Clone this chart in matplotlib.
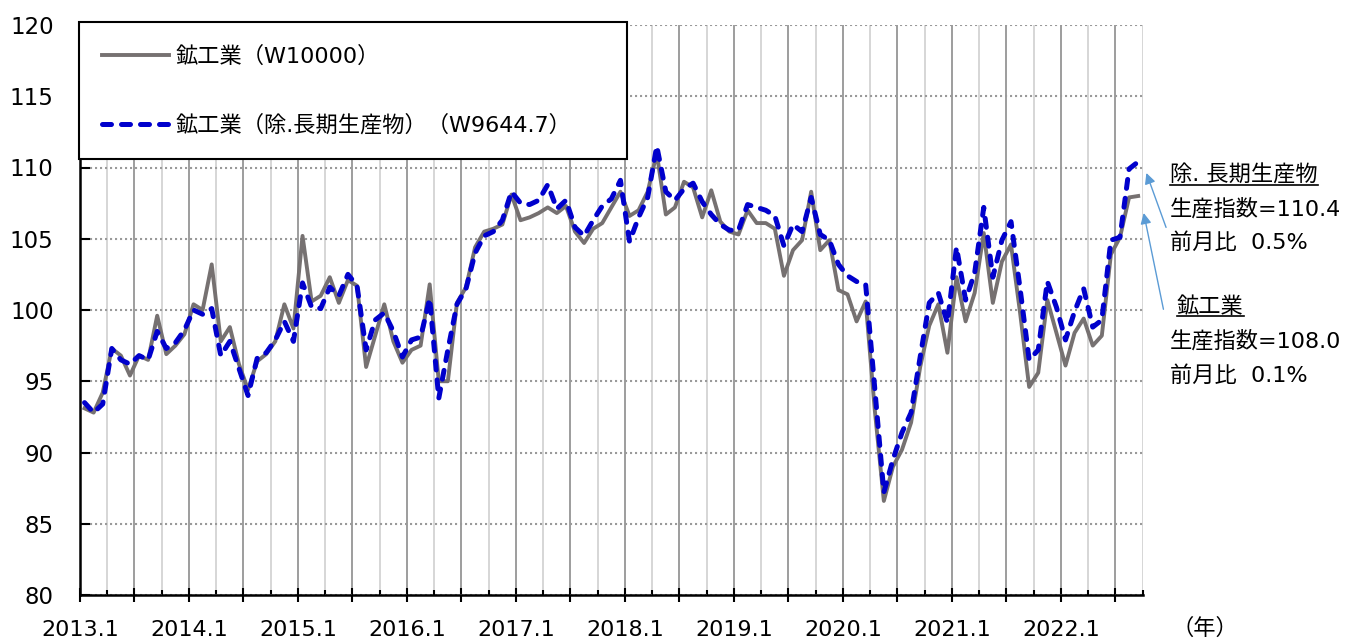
import matplotlib
matplotlib.use("Agg")
import matplotlib.pyplot as plt
import numpy as np
from matplotlib.lines import Line2D
from matplotlib.ticker import FixedLocator, FixedFormatter

plt.rcParams['font.family'] = ['DejaVu Sans', 'Noto Sans CJK JP']

# monthly index, 2013.1 .. 2022.9
mining = [93.1, 92.8, 94.2, 97.3, 96.8, 95.4, 96.8, 96.5, 99.6, 96.9, 97.5, 98.3,
          100.4, 100.0, 103.2, 97.8, 98.8, 96.2, 94.4, 96.4, 96.9, 97.8, 100.4, 98.7,
          105.2, 100.6, 101.0, 102.3, 100.5, 102.1, 101.7, 96.0, 98.2, 100.4, 97.8, 96.3,
          97.2, 97.5, 101.8, 95.0, 95.0, 100.5, 101.6, 104.4, 105.5, 105.7, 106.0, 108.1,
          106.3, 106.5, 106.8, 107.2, 106.8, 107.3, 105.5, 104.7, 105.7, 106.1, 107.2, 108.3,
          106.6, 107.0, 108.3, 111.0, 106.7, 107.2, 109.0, 108.6, 106.5, 108.4, 106.2, 105.5,
          105.3, 107.0, 106.1, 106.1, 105.7, 102.4, 104.2, 104.9, 108.3, 104.2, 104.9, 101.4,
          101.1, 99.2, 100.6, 93.0, 86.6, 89.0, 90.2, 92.1, 96.0, 98.9, 100.4, 97.0,
          102.3, 99.2, 101.2, 105.4, 100.5, 103.4, 104.6, 99.8, 94.6, 95.6, 100.7, 98.4,
          96.1, 98.4, 99.4, 97.5, 98.2, 103.9, 105.1, 107.9, 108.0]

mining_ex = [93.5, 92.8, 93.4, 97.3, 96.5, 96.2, 96.8, 96.5, 98.5, 97.3, 97.7, 98.6,
             100.0, 99.7, 100.1, 96.8, 97.8, 95.9, 94.0, 96.6, 97.0, 97.9, 99.2, 97.8,
             101.9, 100.2, 100.1, 101.6, 101.0, 102.5, 101.7, 97.2, 99.3, 99.8, 98.5, 96.7,
             97.9, 98.1, 100.8, 93.8, 97.2, 100.4, 101.5, 104.0, 105.2, 105.5, 106.3, 108.3,
             107.5, 107.4, 107.7, 108.8, 107.1, 107.7, 105.8, 105.2, 106.3, 107.3, 107.8, 109.1,
             104.8, 106.5, 107.9, 111.5, 108.3, 107.7, 108.5, 108.9, 107.6, 106.7, 106.0, 105.6,
             105.6, 107.4, 107.2, 107.0, 106.6, 104.5, 106.0, 105.5, 107.9, 105.3, 104.9, 103.2,
             102.4, 102.0, 101.8, 94.5, 87.2, 89.5, 91.4, 92.8, 96.7, 100.5, 101.2, 99.1,
             104.4, 100.7, 102.6, 107.2, 102.3, 104.9, 106.2, 101.5, 96.5, 97.2, 102.0, 100.2,
             97.9, 99.9, 101.5, 98.8, 99.3, 104.9, 105.1, 109.9, 110.4]

year_labels = ['2013.1', '2014.1', '2015.1', '2016.1', '2017.1',
               '2018.1', '2019.1', '2020.1', '2021.1', '2022.1']

n = len(mining)
x = np.arange(n) + 0.5

fig = plt.figure(figsize=(13.65, 6.42), dpi=100)
W, H = 1365, 642
ax = fig.add_axes([80 / W, 1 - 595 / H, (1142.7 - 80) / W, (595 - 25) / H])

l1, = ax.plot(x, mining, color='#767171', lw=2.8, zorder=3)
l2, = ax.plot(x, mining_ex, color='#0000cc', lw=3.6, zorder=4,
              dashes=(1.8, 2.0), dash_capstyle='round')

ax.set_xlim(0, 117)
ax.set_ylim(80, 120)
ax.set_yticks(np.arange(80, 121, 5))

major = np.arange(0, 115, 6)
labels = []
for k in major:
    labels.append(year_labels[k // 12] if k % 12 == 0 else '')
ax.xaxis.set_major_locator(FixedLocator(major))
ax.xaxis.set_major_formatter(FixedFormatter(labels))
ax.xaxis.set_minor_locator(FixedLocator(np.arange(3, 118, 6)))

ax.xaxis.grid(True, which='major', color='#8c8c8c', lw=1.2)
ax.xaxis.grid(True, which='minor', color='#cfcfcf', lw=1.2)
ax.yaxis.grid(True, which='major', color='#9a9a9a', lw=1.5, linestyle=(0, (1, 1.4)))
ax.set_axisbelow(True)

for s in ['top', 'right']:
    ax.spines[s].set_visible(False)
for s in ['left', 'bottom']:
    ax.spines[s].set_linewidth(1.8)
    ax.spines[s].set_zorder(5)

ax.tick_params(axis='x', which='major', direction='inout', length=9.5, width=1.5,
               pad=13, labelsize=16)
ax.tick_params(axis='x', which='minor', direction='in', length=3.6, width=1.5)
ax.tick_params(axis='y', direction='in', length=7, width=1.5, pad=19, labelsize=16.5)

leg_top = 1 - 22 / H
leg = ax.legend([l1, l2], ['鉱工業（W10000）', '鉱工業（除.長期生産物）（W9644.7）'],
                loc='upper left', bbox_to_anchor=(79 / W, leg_top - 0.05, (627 - 79) / W, 0.05),
                bbox_transform=fig.transFigure, mode='expand', fancybox=False,
                edgecolor='black', framealpha=1, borderpad=1.05, labelspacing=2.15,
                handlelength=3.0, handletextpad=0.3, fontsize=16, borderaxespad=0)
leg.get_frame().set_linewidth(1.5)

fig.text(1205 / W, 1 - 628 / H, '（年）', ha='center', va='center', fontsize=16)

notes = [('除. 長期生産物', 1170, 175, True),
         ('生産指数=110.4', 1170, 209, False),
         ('前月比  0.5%', 1170, 243, False),
         ('鉱工業', 1177, 307, True),
         ('生産指数=108.0', 1170, 341, False),
         ('前月比  0.1%', 1170, 376, False)]
texts = []
for t, px, py, ul in notes:
    texts.append((fig.text(px / W, 1 - py / H, t, ha='left', va='center', fontsize=16), ul))

fig.canvas.draw()
r = fig.canvas.get_renderer()
for txt, ul in texts:
    if ul:
        bb = txt.get_window_extent(r)
        yy = (bb.y0 + 1) / H
        fig.add_artist(Line2D([bb.x0 / W, bb.x1 / W], [yy, yy], color='black', lw=1.2))

arrow = dict(arrowstyle='-|>', color='#5b9bd5', lw=1.0, mutation_scale=16)
ax.annotate('', xy=(n + 0.3, mining_ex[-1] - 0.6), xytext=(1167, H - 230),
            textcoords='figure pixels', arrowprops=arrow, annotation_clip=False)
ax.annotate('', xy=(n + 0.05, mining[-1] - 1.0), xytext=(1164, H - 312),
            textcoords='figure pixels', arrowprops=arrow, annotation_clip=False)

fig.savefig('out.png', dpi=100)
